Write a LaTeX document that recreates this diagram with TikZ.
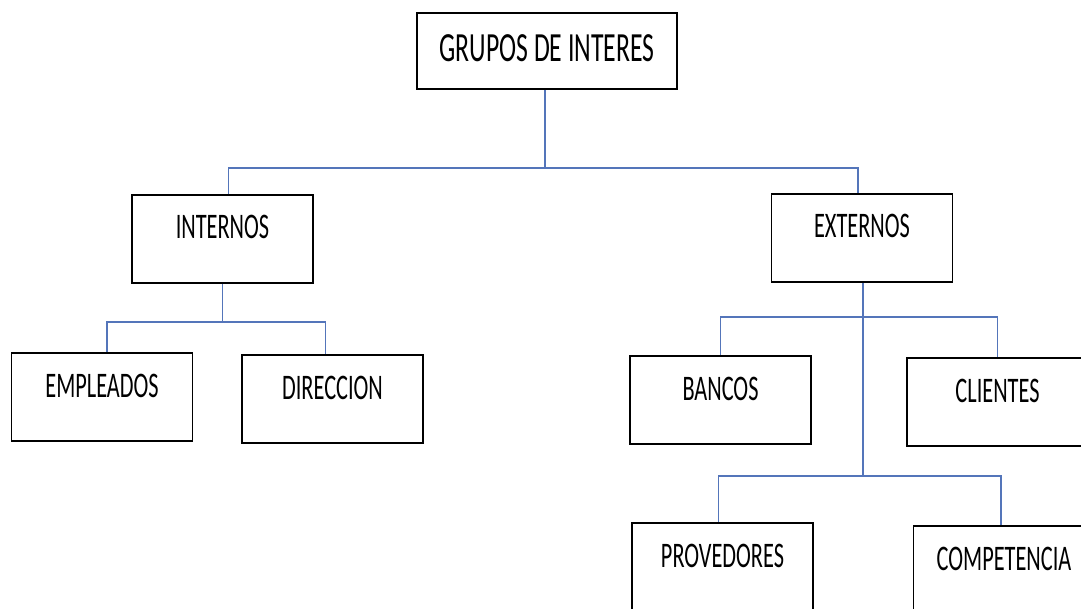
\documentclass[tikz,border=0pt]{standalone}
\usepackage{fontspec}
\newfontfamily\boxfont[FakeStretch=0.62]{Carlito}
\definecolor{linkblue}{RGB}{84,117,186}
\begin{document}
\begin{tikzpicture}[x=1pt, y=-1pt,
  main/.style = {draw, line width=1.6pt, inner sep=0pt, minimum width=181pt,
    text height=44pt, text depth=44pt, font=\boxfont\fontsize{36}{40}\selectfont},
  head/.style = {main, minimum width=260pt, text height=49pt, text depth=27pt,
    font=\boxfont\fontsize{41.5}{46}\selectfont},
  link/.style = {draw=linkblue, line width=1.5pt}]
\clip (0,0) rectangle (1081,609);
\fill[white] (0,0) rectangle (1081,609);
\node[head] (grupos) at (547,51) {GRUPOS DE INTERES};
\node[main] (internos) at (222.5,239) {INTERNOS};
\node[main] (externos) at (862,238) {EXTERNOS};
\node[main] (empleados) at (102,397) {EMPLEADOS};
\node[main] (direccion) at (332.5,399) {DIRECCION};
\node[main] (bancos) at (720.5,400) {BANCOS};
\node[main] (clientes) at (997.5,402) {CLIENTES};
\node[main] (provedores) at (722.5,567) {PROVEDORES};
\node[main] (competencia) at (1004,570) {COMPETENCIA};
\draw[link] ([xshift=-2pt]grupos.south) -- ++(0,78) coordinate (gbus);
\draw[link] ([xshift=6pt]internos.north) |- (gbus) -| ([xshift=-4pt]externos.north);
\draw[link] (internos.south) -- ++(0,38) coordinate (ibus);
\draw[link] ([xshift=5pt]empleados.north) |- (ibus) -| ([xshift=-7pt]direccion.north);
\draw[link] ([xshift=1pt]externos.south) -- ++(0,34) coordinate (ebus) -- ++(0,159) coordinate (ebuslow);
\draw[link] (bancos.north) |- (ebus) -| (clientes.north);
\draw[link] ([xshift=-4pt]provedores.north) |- (ebuslow) -| ([xshift=-3pt]competencia.north);
\end{tikzpicture}
\end{document}
